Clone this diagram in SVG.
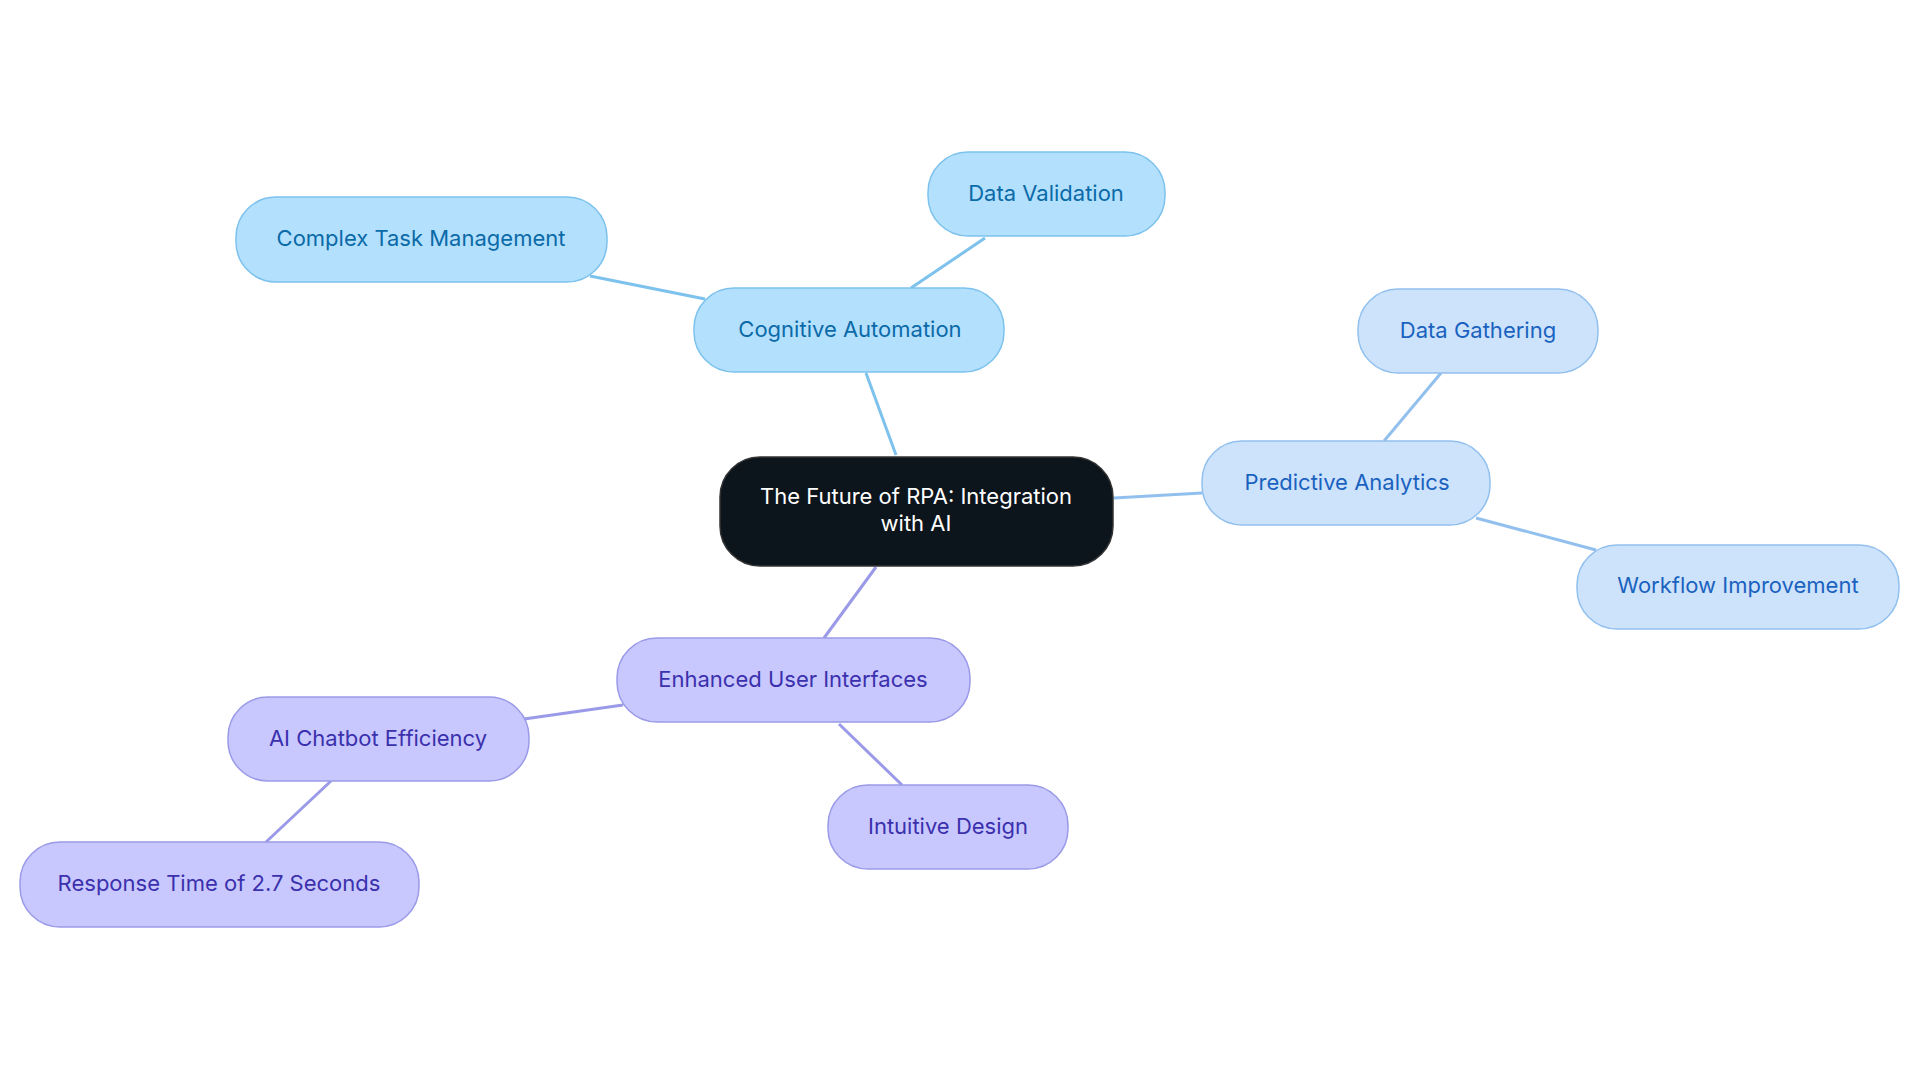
<svg xmlns="http://www.w3.org/2000/svg" width="1920" height="1083" viewBox="0 0 1920 1083">
<style>
text{font-family:Inter,"Noto Sans",sans-serif;font-size:22px;text-anchor:middle;dominant-baseline:central}
.c rect{fill:#b3e0fd;stroke:#7cc2ed;stroke-width:1.5}.c text{fill:#0b6aa8}
.p rect{fill:#cde3fb;stroke:#92c0ee;stroke-width:1.5}.p text{fill:#1a62bf}
.e rect{fill:#c8c8fe;stroke:#9a9ae8;stroke-width:1.5}.e text{fill:#3b30ad}
#edges line{stroke-width:3;fill:none}
</style>
<rect width="1920" height="1083" fill="#fff"/>
<g id="edges">
<line x1="896" y1="455" x2="866" y2="373" stroke="#7cc2ed"/>
<line x1="705" y1="299" x2="590" y2="276" stroke="#7cc2ed"/>
<line x1="911" y1="288" x2="985" y2="238" stroke="#7cc2ed"/>
<line x1="1114" y1="498" x2="1202" y2="493" stroke="#92c0ee"/>
<line x1="1384" y1="441" x2="1441" y2="373" stroke="#92c0ee"/>
<line x1="1476" y1="518" x2="1596" y2="550" stroke="#92c0ee"/>
<line x1="876" y1="567" x2="824" y2="638" stroke="#9a9ae8"/>
<line x1="623" y1="705" x2="524" y2="719" stroke="#9a9ae8"/>
<line x1="331" y1="781" x2="266" y2="842" stroke="#9a9ae8"/>
<line x1="839" y1="724" x2="902" y2="785" stroke="#9a9ae8"/>
</g>
<g id="root"><rect x="720" y="457" width="393" height="109" rx="40" fill="#0c141c" stroke="#333" stroke-width="1.5"/><text x="916" y="496" fill="#fff">The Future of RPA: Integration</text><text x="916" y="523" fill="#fff">with AI</text></g>
<g id="cog" class="c"><rect x="694" y="288" width="310" height="84" rx="40"/><text x="850" y="329">Cognitive Automation</text></g>
<g id="ctm" class="c"><rect x="236" y="197" width="371" height="85" rx="40"/><text x="421" y="238">Complex Task Management</text></g>
<g id="dv" class="c"><rect x="928" y="152" width="237" height="84" rx="40"/><text x="1046" y="193">Data Validation</text></g>
<g id="pa" class="p"><rect x="1202" y="441" width="288" height="84" rx="40"/><text x="1347" y="482">Predictive Analytics</text></g>
<g id="dg" class="p"><rect x="1358" y="289" width="240" height="84" rx="40"/><text x="1478" y="330">Data Gathering</text></g>
<g id="wi" class="p"><rect x="1577" y="545" width="322" height="84" rx="40"/><text x="1738" y="585">Workflow Improvement</text></g>
<g id="eui" class="e"><rect x="617" y="638" width="353" height="84" rx="40"/><text x="793" y="679">Enhanced User Interfaces</text></g>
<g id="ai" class="e"><rect x="228" y="697" width="301" height="84" rx="40"/><text x="378" y="738">AI Chatbot Efficiency</text></g>
<g id="rt" class="e"><rect x="20" y="842" width="399" height="85" rx="40"/><text x="219" y="883">Response Time of 2.7 Seconds</text></g>
<g id="id" class="e"><rect x="828" y="785" width="240" height="84" rx="40"/><text x="948" y="826">Intuitive Design</text></g>
</svg>
